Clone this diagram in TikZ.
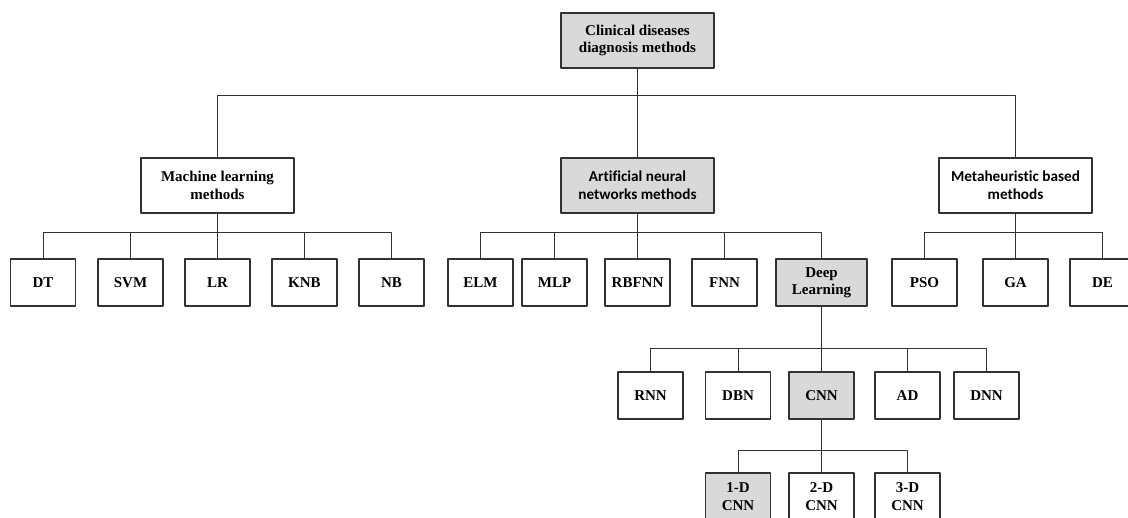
\documentclass[tikz,border=0pt]{standalone}
\usepackage{fontspec}
\setmainfont{Liberation Serif}
\newfontfamily\calfont[Ligatures=NoCommon]{Carlito}
\usetikzlibrary{positioning}
\definecolor{boxgrey}{RGB}{217,217,217}
\definecolor{edgegrey}{RGB}{50,50,50}

\begin{document}
\begin{tikzpicture}[x=1pt,y=-1pt,line cap=round,line join=round,
  box/.style={draw=edgegrey,line width=1.3pt,fill=white,align=center,
   inner sep=0pt,minimum width=65pt,minimum height=47pt,
   font=\fontsize{15}{17.5}\selectfont\bfseries},
  bigbox/.style={box,minimum width=153pt,minimum height=55pt},
  shade/.style={fill=boxgrey},
  sans/.style={font=\fontsize{15.2}{18}\selectfont\calfont\bfseries},
  link/.style={draw=edgegrey,line width=0.9pt}]
 \useasboundingbox (0,0) rectangle (1128,518);
 % top and first level
 \node[bigbox,shade] (root) at (637.5,40.5) {Clinical diseases\\diagnosis methods};
 \node[bigbox] (ml) at (217.5,185.5) {Machine learning\\methods};
 \node[bigbox,shade,sans] (ann) at (637.5,185.5) {Artificial neural\\networks methods};
 \node[bigbox,sans] (meta) at (1015.5,185.5) {Metaheuristic based\\methods};
 % machine learning
 \node[box] (dt) at (43,282.5) {DT};
 \node[box] (svm) at (130.5,282.5) {SVM};
 \node[box] (lr) at (217.5,282.5) {LR};
 \node[box] (knb) at (304.5,282.5) {KNB};
 \node[box] (nb) at (391.5,282.5) {NB};
 % neural networks
 \node[box] (elm) at (480.5,282.5) {ELM};
 \node[box] (mlp) at (554.5,282.5) {MLP};
 \node[box] (rbfnn) at (637.5,282.5) {RBFNN};
 \node[box] (fnn) at (724.5,282.5) {FNN};
 \node[box,shade,minimum width=91pt] (dl) at (821.5,282.5) {Deep\\Learning};
 % metaheuristics
 \node[box] (pso) at (924.5,282.5) {PSO};
 \node[box] (ga) at (1015.5,282.5) {GA};
 \node[box] (de) at (1102.5,282.5) {DE};
 % deep learning
 \node[box] (rnn) at (650.5,395.5) {RNN};
 \node[box] (dbn) at (738,395.5) {DBN};
 \node[box,shade] (cnn) at (821.5,395.5) {CNN};
 \node[box] (ad) at (907.5,395.5) {AD};
 \node[box] (dnn) at (986.5,395.5) {DNN};
 % cnn kinds
 \node[box,shade] (cnna) at (738,496.5) {1-D\\CNN};
 \node[box] (cnnb) at (821.5,496.5) {2-D\\CNN};
 \node[box] (cnnc) at (907.5,496.5) {3-D\\CNN};
 % connectors
 \foreach \c in {ml,ann,meta}
  \draw[link] (root.south) -- ++(0,27) -| (\c.north);
 \foreach \c in {dt,svm,lr,knb,nb}
  \draw[link] (ml.south) -- ++(0,19) -| (\c.north);
 \foreach \c in {elm,mlp,rbfnn,fnn,dl}
  \draw[link] (ann.south) -- ++(0,19) -| (\c.north);
 \foreach \c in {pso,ga,de}
  \draw[link] (meta.south) -- ++(0,19) -| (\c.north);
 \foreach \c in {rnn,dbn,cnn,ad,dnn}
  \draw[link] (dl.south) -- ++(0,42) -| (\c.north);
 \foreach \c in {cnna,cnnb,cnnc}
  \draw[link] (cnn.south) -- ++(0,31) -| (\c.north);
\end{tikzpicture}
\end{document}
